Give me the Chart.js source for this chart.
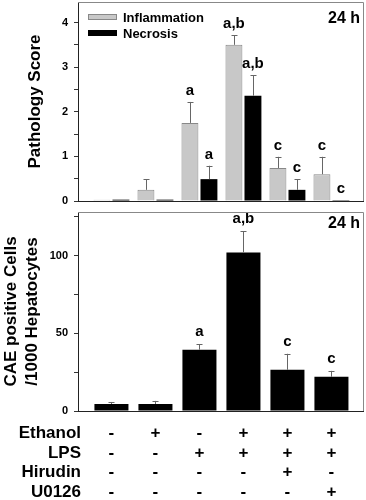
<!DOCTYPE html>
<html><head><meta charset="utf-8">
<script src="https://cdn.jsdelivr.net/npm/chart.js@4.4.0/dist/chart.umd.min.js"></script>
<style>
html,body{margin:0;padding:0;background:#fff;width:366px;height:500px;overflow:hidden}
.box{position:absolute;left:0;width:366px}
</style></head><body>
<div class="box" style="top:0;height:207px"><canvas id="c1"></canvas></div>
<div class="box" style="top:207px;height:293px"><canvas id="c2"></canvas></div>
<script>
// ---- data ----
const groupPos = [1, 2, 3, 4, 5, 6];
const inflammation   = [0.03, 0.25, 1.75, 3.50, 0.74, 0.60];
const inflammationSD = [0.00, 0.24, 0.47, 0.22, 0.25, 0.39];
const necrosis       = [0.03, 0.03, 0.49, 2.36, 0.25, 0.02];
const necrosisSD     = [0.00, 0.00, 0.30, 0.46, 0.24, 0.00];
const inflammationSig = ['', '', 'a', 'a,b', 'c', 'c'];
const necrosisSig     = ['', '', 'a', 'a,b', 'c', 'c'];
const cae       = [4.5, 4.5, 39.4, 102, 26.5, 22];
const caeSD     = [1.3, 2.0, 3.6, 13.5, 10.3, 3.8];
const caeSig    = ['', '', 'a', 'a,b', 'c', 'c'];
const rowNames  = ['Ethanol', 'LPS', 'Hirudin', 'U0126'];
const ethanolRow = ['-', '+', '-', '+', '+', '+'];
const lpsRow     = ['-', '-', '+', '+', '+', '+'];
const hirudinRow = ['-', '-', '-', '-', '+', '-'];
const u0126Row   = ['-', '-', '-', '-', '-', '+'];
const timeLabel = '24 h';
const topTitle = 'Pathology Score';
const bottomTitle = ['CAE positive Cells', '/1000 Hepatocytes'];

const FF = "'Liberation Sans', Arial, Helvetica, sans-serif";
const GRAY = '#c8c8c8';

function pts(vals){ return vals.map((v,i)=>({x: groupPos[i], y: v})); }

// error bars + significance letters + frame + time label
const decor = {
  id: 'decor',
  afterDatasetsDraw(chart, args, opts){
    const {ctx, chartArea:a, scales} = chart;
    const ys = scales.y;
    ctx.save();
    chart.data.datasets.forEach((ds, di) => {
      const meta = chart.getDatasetMeta(di);
      meta.data.forEach((bar, i) => {
        const sd = ds.sd[i];
        let topY = bar.y;
        if (sd > 0) {
          const ey = ys.getPixelForValue(ds.data[i].y + sd);
          ctx.strokeStyle = '#666'; ctx.lineWidth = 1;
          ctx.beginPath();
          ctx.moveTo(Math.round(bar.x)+0.5, bar.y); ctx.lineTo(Math.round(bar.x)+0.5, ey);
          ctx.moveTo(Math.round(bar.x)-2.5, Math.round(ey)+0.5); ctx.lineTo(Math.round(bar.x)+3.5, Math.round(ey)+0.5);
          ctx.stroke();
          topY = ey;
        }
        const s = ds.sig[i];
        if (s) {
          ctx.fillStyle = '#000';
          ctx.font = 'bold 15px ' + FF;
          ctx.textAlign = 'center'; ctx.textBaseline = 'alphabetic';
          ctx.fillText(s, bar.x, topY - opts.sigGap);
        }
      });
    });
    // frame
    ctx.strokeStyle = '#888'; ctx.lineWidth = 1;
    ctx.beginPath();
    ctx.moveTo(a.left, Math.round(a.top)+0.5); ctx.lineTo(Math.round(a.right)-0.5, Math.round(a.top)+0.5);
    ctx.lineTo(Math.round(a.right)-0.5, a.bottom);
    ctx.stroke();
    ctx.strokeStyle = '#222';
    ctx.beginPath();
    ctx.moveTo(a.left, Math.round(a.bottom)+0.5); ctx.lineTo(a.right, Math.round(a.bottom)+0.5);
    ctx.stroke();
    // time label
    ctx.fillStyle = '#000';
    ctx.font = 'bold 16px ' + FF;
    ctx.textAlign = 'right'; ctx.textBaseline = 'alphabetic';
    ctx.fillText(timeLabel, a.right - 4, a.top + opts.timeY);
    ctx.restore();
  }
};

const legendPlugin = {
  id: 'customLegend',
  afterDraw(chart){
    const {ctx} = chart;
    ctx.save();
    chart.data.datasets.forEach((ds, i) => {
      const cy = 17 + i * 16;
      ctx.fillStyle = ds.backgroundColor;
      ctx.fillRect(88, cy - 3, 29, 6);
      if (ds.borderWidth) { ctx.strokeStyle = ds.borderColor; ctx.lineWidth = 1; ctx.strokeRect(88.5, cy - 2.5, 28, 5); }
      ctx.fillStyle = '#000';
      ctx.font = 'bold 13px ' + FF;
      ctx.textAlign = 'left'; ctx.textBaseline = 'middle';
      ctx.fillText(ds.label, 123, cy + 1);
    });
    ctx.restore();
  }
};

const tablePlugin = {
  id: 'treatTable',
  afterDraw(chart){
    const {ctx, scales} = chart;
    const rows = [ethanolRow, lpsRow, hirudinRow, u0126Row];
    const base = [231, 250.5, 270, 290];
    ctx.save();
    ctx.fillStyle = '#000';
    ctx.font = 'bold 17px ' + FF;
    ctx.textBaseline = 'alphabetic';
    rows.forEach((r, ri) => {
      ctx.textAlign = 'right';
      ctx.fillText(rowNames[ri], 81, base[ri]);
      ctx.textAlign = 'center';
      r.forEach((s, i) => ctx.fillText(s, scales.x.getPixelForValue(groupPos[i]), base[ri]));
    });
    ctx.restore();
  }
};

function yAxis(max, step, major, title, titlePad){
  return {
    type: 'linear', min: 0, max: max,
    afterFit(s){ s.width = 78; s.paddingTop = 0; s.paddingBottom = 0; },
    border: {display: true, color: '#222'},
    grid: {drawOnChartArea: false, drawTicks: true, tickLength: 4, color: '#333'},
    ticks: {
      stepSize: step, includeBounds: false, padding: 6, color: '#000',
      font: {family: FF, size: 11, weight: 'bold'},
      callback: v => (Math.abs(v / major - Math.round(v / major)) < 1e-6 ? String(v) : '')
    },
    title: {display: true, text: title, color: '#000',
      font: {family: FF, size: 17, weight: 'bold', lineHeight: 1.25},
      padding: {top: titlePad, bottom: 0}}
  };
}
const xAxis = {type: 'linear', min: 0.24, max: 6.74, offset: false, display: false,
  afterFit(s){ s.paddingLeft = 0; s.paddingRight = 0; }};

new Chart(document.getElementById('c1'), {
  type: 'bar',
  data: {datasets: [
    {label: 'Inflammation', data: pts(inflammation), sd: inflammationSD, sig: inflammationSig,
     backgroundColor: GRAY, borderColor: '#888', borderWidth: 1, categoryPercentage: 0.864, barPercentage: 0.89},
    {label: 'Necrosis', data: pts(necrosis), sd: necrosisSD, sig: necrosisSig,
     backgroundColor: '#000', borderColor: '#000', borderWidth: 0, categoryPercentage: 0.864, barPercentage: 0.89}
  ]},
  options: {
    responsive: true, maintainAspectRatio: false, animation: false,
    layout: {padding: {top: 2, right: 2, bottom: 6, left: 0}},
    plugins: {legend: {display: false}, tooltip: {enabled: false}, decor: {sigGap: 7, timeY: 21}},
    scales: {x: xAxis, y: yAxis(4.46, 0.5, 1, topTitle, 24.5)}
  },
  plugins: [decor, legendPlugin]
});

new Chart(document.getElementById('c2'), {
  type: 'bar',
  data: {datasets: [
    {label: 'CAE positive cells', data: pts(cae), sd: caeSD, sig: caeSig,
     backgroundColor: '#000', borderColor: '#000', borderWidth: 0, categoryPercentage: 0.864, barPercentage: 0.895}
  ]},
  options: {
    responsive: true, maintainAspectRatio: false, animation: false,
    layout: {padding: {top: 5, right: 2, bottom: 89, left: 0}},
    plugins: {legend: {display: false}, tooltip: {enabled: false}, decor: {sigGap: 8, timeY: 16}},
    scales: {x: xAxis, y: yAxis(128, 25, 50, bottomTitle, 0.5)}
  },
  plugins: [decor, tablePlugin]
});
</script>
</body></html>
